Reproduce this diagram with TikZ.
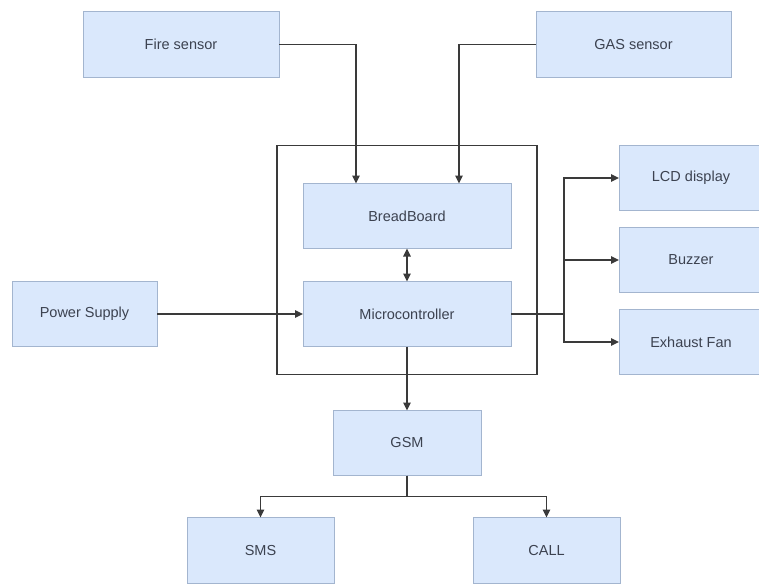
\documentclass[tikz,border=0pt]{standalone}
\usepackage{fontspec}
\setmainfont{Liberation Sans}
\usetikzlibrary{positioning,fit,arrows.meta}
\definecolor{boxfill}{HTML}{DAE8FC}
\definecolor{boxline}{HTML}{A3B5CF}
\definecolor{wirecol}{HTML}{3A3A3A}
\definecolor{txt}{HTML}{3C4250}
\tikzset{
  block/.style args={#1,#2}{
  draw=boxline,
  fill=boxfill,
  line width=0.8pt,
  minimum width=#1pt,
  minimum height=#2pt,
  inner sep=0pt,
  outer sep=0pt,
  text=txt,
  font=\fontsize{14.5}{17}\selectfont
  },
  frame/.style={draw=wirecol,line width=1.3pt,inner sep=0pt},
  wire/.style={draw=wirecol,line width=1.3pt}
}
\begin{document}
\begin{tikzpicture}[x=1pt,y=-1pt,>={Triangle[length=8pt,width=7.5pt]}]
  \useasboundingbox (0,0) rectangle (759,583);

  \node [block={208,65}] (micro) at (407,314) {Microcontroller};
  \node [block={208,65},above=33pt of micro] (bread) {BreadBoard};
  \node [block={145,65},left=146pt of micro] (power) {Power Supply};
  \node [block={148,65},below=64pt of micro] (gsm) {GSM};
  \node [block={147,66},below=42pt of gsm,xshift=-146.5pt] (sms) {SMS};
  \node [block={147,66},below=42pt of gsm,xshift=139.5pt] (call) {CALL};
  \node [block={196,66},above=106pt of bread,xshift=-226pt] (fire) {Fire sensor};
  \node [block={195,66},above=106pt of bread,xshift=226.5pt] (gas) {GAS sensor};
  \node [block={144,65},right=108pt of micro,yshift=54pt] (buzzer) {Buzzer};
  \node [block={144,65},above=17pt of buzzer] (lcd) {LCD display};
  \node [block={144,65},below=17pt of buzzer] (fan) {Exhaust Fan};
  \node [frame,fit=(bread)(micro),inner xsep=26pt,inner ysep=33pt,yshift=5pt] (board) {};

  \draw [wire,->] (fire.east) -| ([xshift=-51pt]bread.north);
  \draw [wire,->] (gas.west) -| ([xshift=52pt]bread.north);
  \draw [wire,<->] (bread) -- (micro);
  \draw [wire,->] (power) -- (micro);
  \draw [wire,->] (micro.east) -- ++(53,0) |- (lcd);
  \draw [wire,->] (micro.east) -- ++(53,0) |- (buzzer);
  \draw [wire,->] (micro.east) -- ++(53,0) |- (fan);
  \draw [wire,->] (micro) -- (gsm);
  \draw [wire,->] (gsm.south) -- ++(0,21) -| (sms);
  \draw [wire,->] (gsm.south) -- ++(0,21) -| (call);
\end{tikzpicture}
\end{document}
